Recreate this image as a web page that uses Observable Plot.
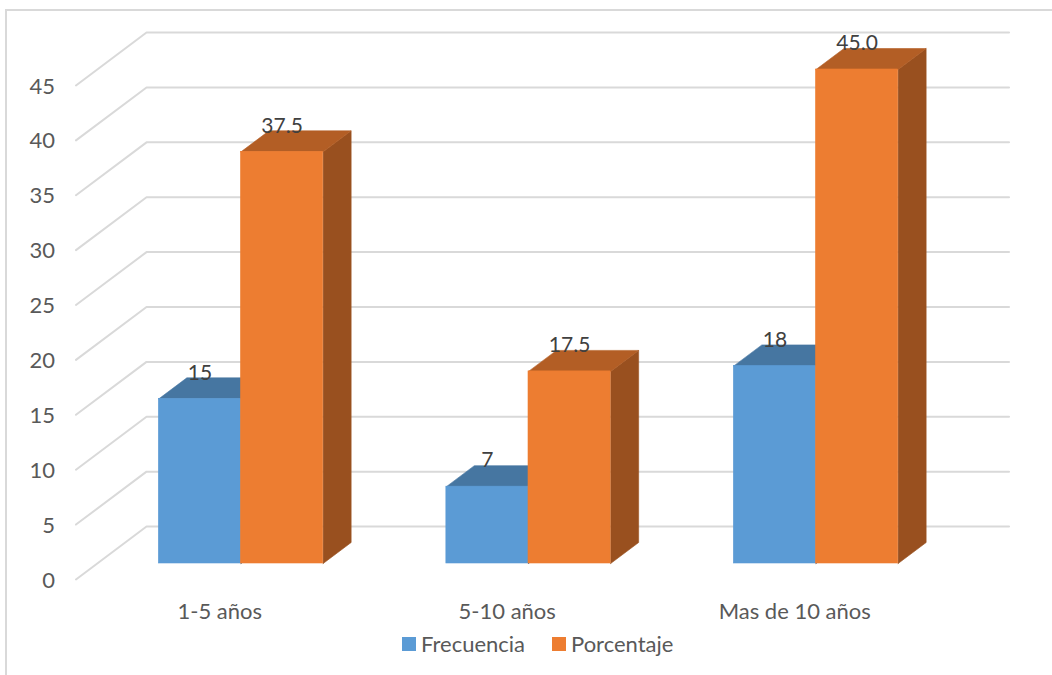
<!DOCTYPE html>
<html lang="es">
<head>
<meta charset="utf-8">
<script src="https://cdn.jsdelivr.net/npm/d3@7"></script>
<script src="https://cdn.jsdelivr.net/npm/@observablehq/plot@0.6"></script>
<style>
  html, body { margin: 0; padding: 0; background: #fff; }
  body { width: 1052px; height: 675px; overflow: hidden; position: relative; font-family: Lato, sans-serif; }
  #frame { position: absolute; left: 5px; top: 9px; right: 0; bottom: 0; border-left: 2px solid #d9d9d9; border-top: 2px solid #d9d9d9; }
  #chart { position: absolute; left: 0; top: 0; }
  #chart svg { display: block; }
  #legend { position: absolute; left: 0; top: 630px; width: 1052px; height: 28px; color: #595959; font-size: 22px; }
  .key { position: absolute; top: 0; height: 28px; line-height: 28px; white-space: nowrap; }
  .key i { position: absolute; left: 0; top: 7px; width: 14px; height: 14px; }
  .key span { position: absolute; left: 19px; top: 0; }
</style>
</head>
<body>
<div id="frame"></div>
<div id="chart"></div>
<div id="legend"></div>
<script>
const categorias = ["1-5 años", "5-10 años", "Mas de 10 años"];
const frecuencia = [15, 7, 18];
const porcentaje = [37.5, 17.5, 45.0];
const porcentajeTexto = ["37.5", "17.5", "45.0"];
const marcasY = [0, 5, 10, 15, 20, 25, 30, 35, 40, 45];
const colores = {
  Frecuencia: { front: "#5b9bd5", top: "#4676a1", side: "#355a7c" },
  Porcentaje: { front: "#ed7d31", top: "#b35e25", side: "#99501f" }
};

// Oblique projection: one unit of depth is the thickness of a bar, and it moves
// a point right along the category axis and up along the value axis.
const depthX = 28 / 287.5;
const depthY = 21 / 10.98;
const wallFront = -0.76;
const wallBack = 1.76;
const barWidth = 1 / 3.5; // two bars per category with a 150 % gap
const px = (pos, d) => pos + d * depthX;
const py = (val, d) => val + d * depthY;

// One record per bar, with its left and right edge along the category axis.
const barras = [];
categorias.forEach((categoria, i) => {
  barras.push({ categoria, serie: "Frecuencia", valor: frecuencia[i], texto: String(frecuencia[i]), x1: i - barWidth, x2: i });
  barras.push({ categoria, serie: "Porcentaje", valor: porcentaje[i], texto: porcentajeTexto[i], x1: i, x2: i + barWidth });
});

// Closed outlines for the top and right-hand faces of each bar.
const caras = barras.flatMap((b, n) => {
  const top = [[b.x1, b.valor, 0], [b.x2, b.valor, 0], [b.x2, b.valor, 1], [b.x1, b.valor, 1], [b.x1, b.valor, 0]];
  const side = [[b.x2, 0, 0], [b.x2, b.valor, 0], [b.x2, b.valor, 1], [b.x2, 0, 1], [b.x2, 0, 0]];
  const faces = [["side", side], ["top", top]];
  return faces.flatMap(([cara, pts]) => pts.map(([p, v, d]) => ({
    id: `${n}-${cara}`, serie: b.serie, color: colores[b.serie][cara], x: px(p, d), y: py(v, d)
  })));
});

// Each gridline climbs the side wall and then runs along the back wall.
const rejilla = marcasY.flatMap(v => [
  { v, x: px(-0.5, wallFront), y: py(v, wallFront) },
  { v, x: px(-0.5, wallBack), y: py(v, wallBack) },
  { v, x: px(2.5, wallBack), y: py(v, wallBack) }
]);

// Faces are painted series by series so the orange bar hides the blue one.
// A hairline in the face's own colour closes the seams between adjoining faces.
const capaSerie = serie => [
  Plot.line(caras.filter(c => c.serie === serie), {
    x: "x", y: "y", z: "id", fill: "color", stroke: "color", strokeWidth: 0.6, curve: "linear"
  }),
  Plot.rect(barras.filter(b => b.serie === serie), {
    x1: "x1", x2: "x2", y1: () => 0, y2: "valor",
    fill: d => colores[d.serie].front, stroke: d => colores[d.serie].front, strokeWidth: 0.6
  })
];

const chart = Plot.plot({
  width: 1052,
  height: 625,
  margin: 0,
  style: { background: "transparent", fontFamily: "Lato, sans-serif", overflow: "visible" },
  x: { type: "linear", domain: [-0.5, 2.5], range: [96.75, 959.25], axis: null },
  y: { type: "linear", domain: [0, 45], range: [563, 69], axis: null },
  color: { type: "identity" },
  marks: [
    Plot.line(rejilla, { x: "x", y: "y", z: "v", stroke: "#d9d9d9", strokeWidth: 2, curve: "linear" }),
    ...capaSerie("Frecuencia"),
    ...capaSerie("Porcentaje"),
    // Value axis labels beside the front end of each gridline.
    Plot.text(marcasY, {
      x: px(-0.5, wallFront), y: v => py(v, wallFront), text: v => String(v),
      textAnchor: "end", dx: -21, dy: 1, fontSize: 22, fill: "#595959"
    }),
    // Category labels under the floor's front edge.
    Plot.text(categorias, {
      x: (d, i) => px(i, wallFront), y: () => py(0, wallFront), text: d => d,
      dy: 32, fontSize: 22, fill: "#595959"
    }),
    // Value labels over each bar's front top edge.
    Plot.text(barras, {
      x: d => (d.x1 + d.x2) / 2, y: "valor", text: "texto",
      dy: -26, fontSize: 21, fill: "#404040"
    })
  ]
});
document.getElementById("chart").append(chart);

// Legend drawn under the chart.
const leyenda = document.getElementById("legend");
[["Frecuencia", 402], ["Porcentaje", 552]].forEach(([nombre, left]) => {
  const key = document.createElement("div");
  key.className = "key";
  key.style.left = left + "px";
  const cuadro = document.createElement("i");
  cuadro.style.background = colores[nombre].front;
  const rotulo = document.createElement("span");
  rotulo.textContent = nombre;
  key.append(cuadro, rotulo);
  leyenda.append(key);
});
</script>
</body>
</html>
